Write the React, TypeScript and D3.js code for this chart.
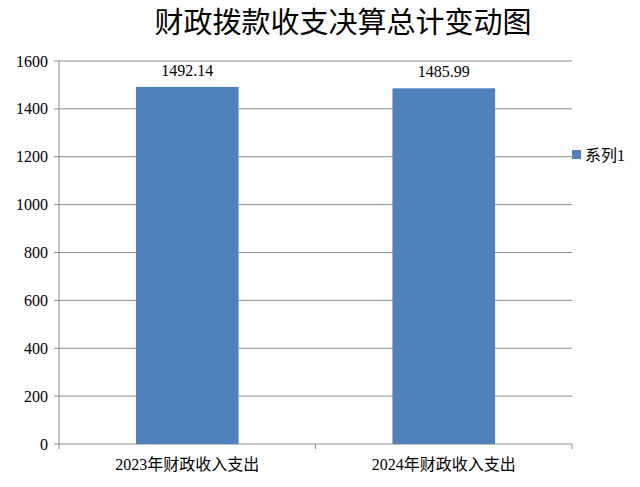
import React from "react";
import * as d3 from "d3";

const categories = ["2023年财政收入支出", "2024年财政收入支出"];
const values = [1492.14, 1485.99];
const yTicks = [0, 200, 400, 600, 800, 1000, 1200, 1400, 1600];
const title = "财政拨款收支决算总计变动图";
const seriesName = "系列1";

export default function App() {
  const W = 640, H = 487;
  const left = 59, right = 572, top = 61, bottom = 444;
  const x = d3.scaleBand<string>().domain(categories).range([left, right]).paddingInner(0.6).paddingOuter(0.3);
  const y = d3.scaleLinear().domain([0, 1600]).range([bottom, top]);
  const serif = { fontFamily: '"Liberation Serif", "Noto Sans CJK SC", serif', fontSize: 16 };
  const grid = "#8c8c8c";
  const boundaries = [left, left + (right - left) / 2, right];
  return (
    <svg width={W} height={H} style={{ position: "absolute", left: 0, top: 0, background: "#fff" }}>
      <text x={343} y={33} textAnchor="middle" style={{ fontFamily: '"Noto Sans CJK SC", sans-serif', fontSize: 29 }} fill="#000">{title}</text>
      {yTicks.map((t) => (
        <g key={t}>
          <line x1={left - 5} x2={right} y1={y(t)} y2={y(t)} stroke={grid} strokeWidth={1} />
          <text x={48} y={y(t) + 5.5} textAnchor="end" style={serif} fill="#000">{t}</text>
        </g>
      ))}
      <line x1={left} x2={left} y1={top} y2={bottom} stroke={grid} strokeWidth={1} />
      {boundaries.map((b, i) => (
        <line key={i} x1={b} x2={b} y1={bottom} y2={bottom + 5} stroke={grid} strokeWidth={1} />
      ))}
      {categories.map((c, i) => (
        <g key={c}>
          <rect x={x(c)} y={y(values[i])} width={x.bandwidth()} height={bottom - y(values[i])} fill="#4F81BD" />
          <text x={(x(c) as number) + x.bandwidth() / 2} y={y(values[i]) - 11} textAnchor="middle" style={serif} fill="#000">{values[i].toFixed(2)}</text>
          <text x={(x(c) as number) + x.bandwidth() / 2} y={470} textAnchor="middle" style={serif} fill="#000">{c}</text>
        </g>
      ))}
      <rect x={572} y={150} width={9} height={9} fill="#4F81BD" />
      <text x={585} y={161} style={serif} fill="#000">{seriesName}</text>
    </svg>
  );
}
